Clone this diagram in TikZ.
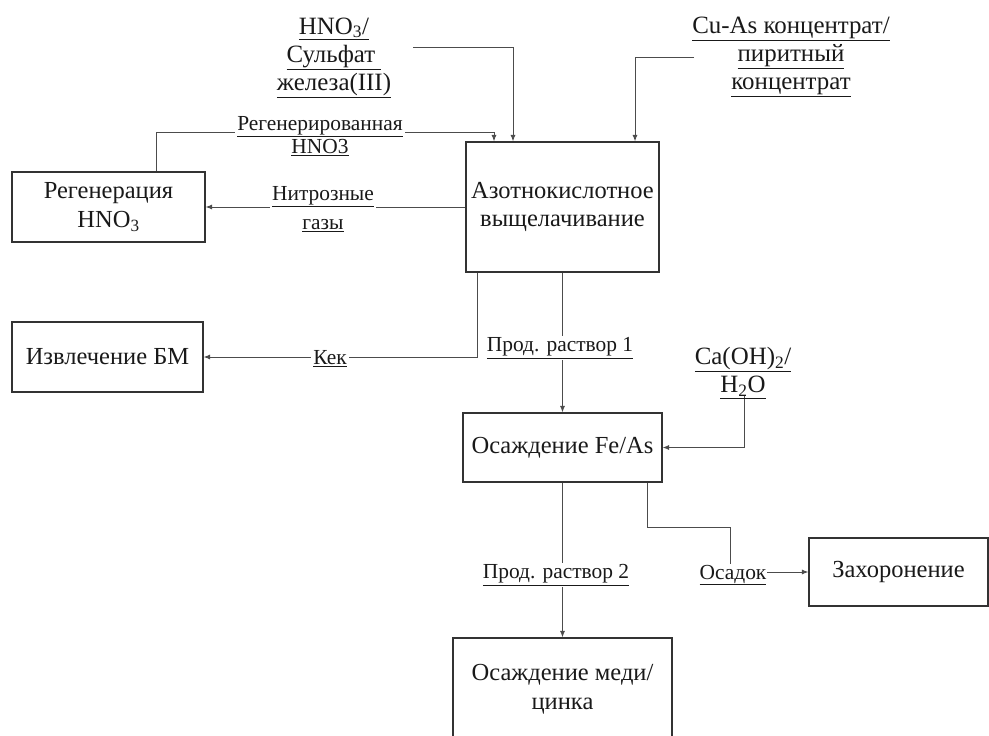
\documentclass[tikz,border=0pt]{standalone}
\usepackage{fontspec}
\setmainfont{Liberation Serif}
\usetikzlibrary{arrows.meta,backgrounds}
\begin{document}
\begin{tikzpicture}[x=1bp,y=-1bp,
  box/.style={draw=black!80,line width=1.1bp,inner sep=0pt,align=center,font=\fontsize{24.6}{29}\selectfont,text=black!90},
  inlabel/.style={align=center,inner sep=2bp,font=\fontsize{25}{28.5}\selectfont,text=black!90},
  lbl/.style={align=center,fill=white,inner sep=2bp,font=\fontsize{21.5}{23}\selectfont,text=black!90},
  conn/.style={draw=black!70,line width=1bp},
  arr/.style={conn,-{Latex[length=6.5bp,width=5bp]}}]
\useasboundingbox (0,0) rectangle (989,736);
\clip (0,0) rectangle (989,736);
% boxes
\node[box,minimum width=193bp,minimum height=70bp] (regen) at (108.5,207) {Регенерация\\HNO\textsubscript{3}};
\node[box,minimum width=193bp,minimum height=130bp] (azot) at (562.5,207) {Азотнокислотное\\выщелачивание};
\node[box,minimum width=191bp,minimum height=70bp] (izvl) at (107.5,357) {Извлечение БМ};
\node[box,minimum width=199bp,minimum height=69bp] (feas) at (562.5,447.5) {Осаждение Fe/As};
\node[box,minimum width=179bp,minimum height=68bp] (zahor) at (898.5,572) {Захоронение};
\node[box,minimum width=219bp,minimum height=102bp] (medi) at (562.5,689) {Осаждение меди/\\цинка};
% input labels
\node[inlabel] (hno) at (334,58) {\underline{HNO\textsubscript{3}/}\\\underline{Сульфат\ }\\\underline{железа(III)}};
\node[inlabel] (cuas) at (791,57) {\underline{Cu-As концентрат/}\\\underline{пиритный}\\\underline{концентрат}};
\node[inlabel] (caoh) at (743,373) {\underline{Ca(OH)\textsubscript{2}/}\\\underline{H\textsubscript{2}O}};
% flow labels
\node[lbl] (rhno) at (320,136) {\underline{Регенерированная}\\\underline{HNO3}};
\node[lbl,font=\fontsize{21.5}{29}\selectfont] (nitro) at (323,209) {\underline{Нитрозные}\\\underline{газы}};
\node[lbl] (kek) at (330,359) {\underline{Кек}};
\node[lbl] (prod1) at (560,348) {\underline{Прод. раствор 1}};
\node[lbl] (prod2) at (556,575) {\underline{Прод. раствор 2}};
\node[lbl,inner sep=0.5bp] (osad) at (733,575) {\underline{Осадок}};
% free ends / bends
\coordinate (h0) at (413,48);
\coordinate (hx) at (513,0);
\coordinate (c0) at (694,58);
\coordinate (cx) at (635,0);
\coordinate (r1) at (156,132);
\coordinate (rx) at (494,0);
\coordinate (k1) at (477,357);
\coordinate (ca1) at (744,395);
\coordinate (o1) at (647,527);
\coordinate (o2) at (730,527);
\coordinate (ny) at (0,207);
\coordinate (oy) at (0,572);
\begin{scope}[on background layer]
\draw[arr] (h0) -| (azot.north -| hx);
\draw[arr] (c0) -| (azot.north -| cx);
\draw[arr] (regen.north -| r1) -- (r1) -| (azot.north -| rx);
\draw[arr] (azot.west |- ny) -- (regen.east |- ny);
\draw[arr] (azot.south -| k1) -- (k1) -- (izvl.east |- k1);
\draw[arr] (azot.south) -- (feas.north);
\draw[arr] (ca1) |- (feas.east);
\draw[arr] (feas.south) -- (medi.north);
\draw[conn] (feas.south -| o1) -- (o1) -- (o2) -- (osad.north -| o2);
\draw[arr] (osad.east |- oy) -- (zahor.west |- oy);
\end{scope}
\end{tikzpicture}
\end{document}
